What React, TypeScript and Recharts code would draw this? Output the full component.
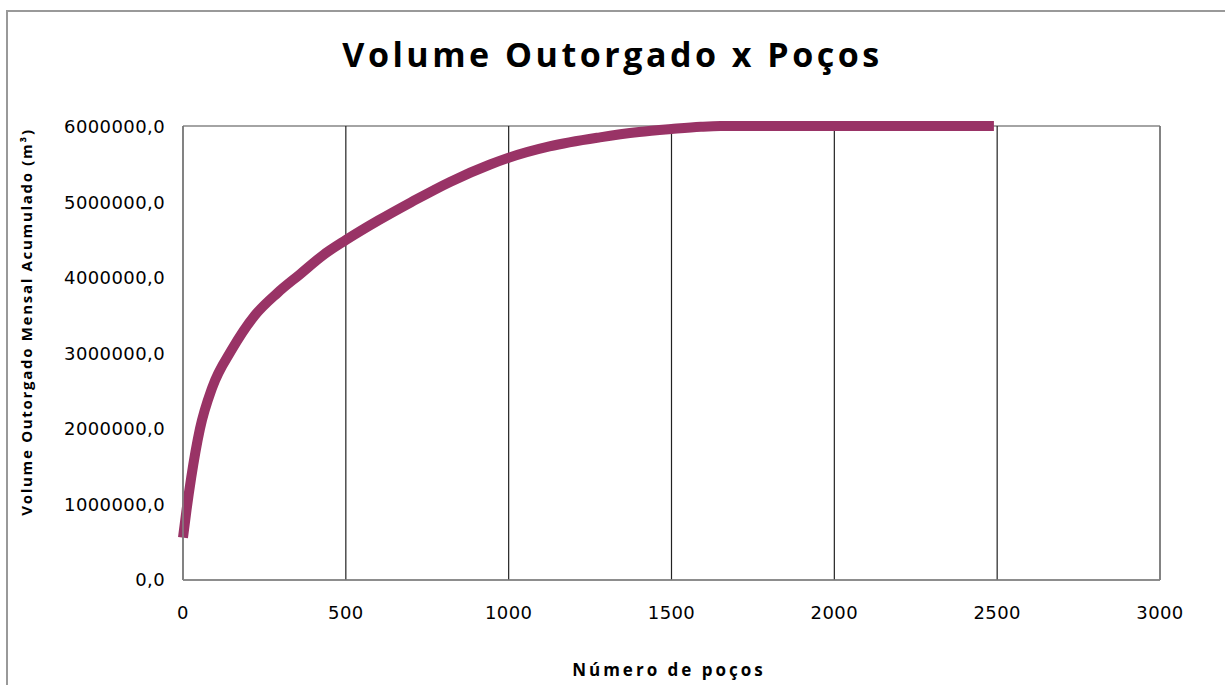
import React from "react";
import {
  LineChart,
  Line,
  XAxis,
  YAxis,
  CartesianGrid,
} from "recharts";

// número de poços (eixo X)
const wells = [0, 10, 25, 52, 90, 150, 220, 290, 360, 430, 500, 600, 700, 820, 943, 1000, 1125, 1280, 1400, 1500, 1590, 1650, 2000, 2490];
// volume outorgado mensal acumulado (m³)
const volume = [560000, 900000, 1350000, 2000000, 2550000, 3050000, 3500000, 3800000, 4050000, 4300000, 4500000, 4760000, 5000000, 5270000, 5500000, 5590000, 5740000, 5860000, 5930000, 5970000, 6000000, 6010000, 6010000, 6010000];

const xTicks = [0, 500, 1000, 1500, 2000, 2500, 3000];
const leftTicks = [0, 1000000, 2000000, 3000000, 4000000, 5000000, 6000000];
const rightTicks = [0, 10, 20, 30, 40, 50, 60, 70, 80, 90, 100];

const data = wells.map((w, i) => ({ wells: w, volume: volume[i] }));

const tickFont = { fontFamily: "DejaVu Sans", fontSize: 18, fill: "#000", letterSpacing: 0.4 };
const fmt = (v: number) => v.toFixed(1).replace(".", ",");

export default function App() {
  return (
    <div style={{ position: "absolute", left: 0, top: 0, width: 1225, height: 685, overflow: "hidden", background: "#fff" }}>
      {/* moldura do gráfico, sai pela direita e por baixo */}
      <div style={{ position: "absolute", left: 6, top: 10, width: 1260, height: 720, border: "2px solid #999" }} />

      <div
        style={{
          position: "absolute", left: 0, width: 1225, top: 31, textAlign: "center",
          fontFamily: "Open Sans", fontWeight: 700, fontSize: 34, letterSpacing: 3.5,
        }}
      >
        Volume Outorgado x Poços
      </div>

      <div
        style={{
          position: "absolute", left: 26, top: 322, width: 500, marginLeft: -250, textAlign: "center",
          transform: "translateY(-50%) rotate(-90deg)", fontFamily: "Open Sans", fontWeight: 700,
          fontSize: 15, letterSpacing: 1.7, lineHeight: "18px",
        }}
      >
        Volume Outorgado Mensal Acumulado (m³)
      </div>

      <div
        style={{
          position: "absolute", left: 669, top: 658, width: 400, marginLeft: -200, textAlign: "center",
          fontFamily: "Open Sans", fontWeight: 700, fontSize: 17, letterSpacing: 3,
        }}
      >
        Número de poços
      </div>

      <div style={{ position: "absolute", left: 0, top: 0 }}>
        <LineChart width={1225} height={685} data={data} margin={{ top: 126, right: 0, bottom: 65, left: 0 }}>
          <CartesianGrid horizontal={true} vertical={false} stroke="#868686" strokeWidth={1.5} />
          <CartesianGrid horizontal={false} vertical={true} stroke="#222" strokeWidth={1.2} />
          <XAxis
            dataKey="wells"
            type="number"
            domain={[0, 3000]}
            ticks={xTicks}
            height={40}
            axisLine={{ stroke: "#868686", strokeWidth: 1.5 }}
            tickLine={false}
            tickSize={0}
            tickMargin={26}
            tick={tickFont}
            interval={0}
          />
          <YAxis
            yAxisId="left"
            type="number"
            domain={[0, 6000000]}
            ticks={leftTicks}
            width={183}
            axisLine={{ stroke: "#868686", strokeWidth: 1.5 }}
            tickLine={false}
            tickSize={0}
            tickMargin={18}
            tick={tickFont}
            tickFormatter={fmt}
            interval={0}
          />
          <YAxis
            yAxisId="right"
            orientation="right"
            type="number"
            domain={[0, 100]}
            ticks={rightTicks}
            width={65}
            axisLine={{ stroke: "#868686", strokeWidth: 1.5 }}
            tickLine={{ stroke: "#868686", strokeWidth: 1.5 }}
            tickSize={7}
            tickMargin={9}
            tick={tickFont}
            interval={0}
          />
          <Line
            yAxisId="left"
            dataKey="volume"
            type="monotone"
            stroke="#993366"
            strokeWidth={10}
            strokeLinecap="butt"
            dot={false}
            isAnimationActive={false}
          />
        </LineChart>
      </div>
    </div>
  );
}
